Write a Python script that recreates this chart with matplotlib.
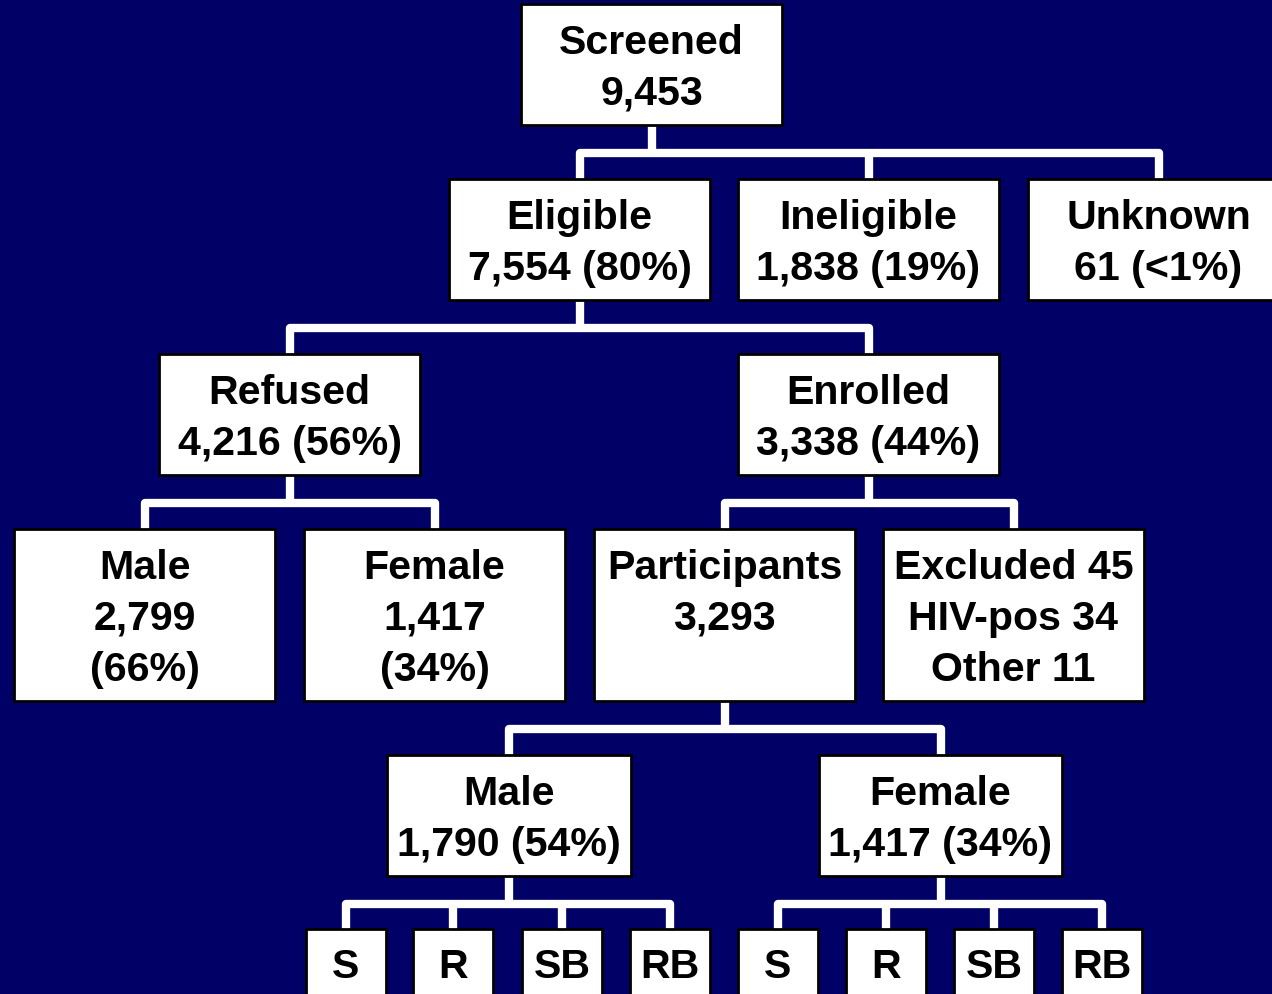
import matplotlib
matplotlib.use("Agg")
import matplotlib.pyplot as plt
from matplotlib.patches import Rectangle

# ---- data (text of each node) ----
node_names = ["screened", "eligible", "ineligible", "unknown", "refused", "enrolled",
              "ref_male", "ref_female", "participants", "excluded",
              "p_male", "p_female",
              "m_s", "m_r", "m_sb", "m_rb", "f_s", "f_r", "f_sb", "f_rb"]
node_labels = ["Screened\n9,453", "Eligible\n7,554 (80%)", "Ineligible\n1,838 (19%)",
               "Unknown\n61 (<1%)", "Refused\n4,216 (56%)", "Enrolled\n3,338 (44%)",
               "Male\n2,799\n(66%)", "Female\n1,417\n(34%)", "Participants\n3,293\n ",
               "Excluded 45\nHIV-pos 34\nOther 11",
               "Male\n1,790 (54%)", "Female\n1,417 (34%)",
               "S", "R", "SB", "RB", "S", "R", "SB", "RB"]
edges = {
    "screened": ["eligible", "ineligible", "unknown"],
    "eligible": ["refused", "enrolled"],
    "refused": ["ref_male", "ref_female"],
    "enrolled": ["participants", "excluded"],
    "participants": ["p_male", "p_female"],
    "p_male": ["m_s", "m_r", "m_sb", "m_rb"],
    "p_female": ["f_s", "f_r", "f_sb", "f_rb"],
}

# ---- layout (pixel geometry: x0, y0, x1, y1) ----
box_geom = {
    "screened": (521, 5, 782, 126),
    "eligible": (449, 180, 710, 301),
    "ineligible": (738, 180, 999, 301),
    "unknown": (1028, 180, 1289, 301),
    "refused": (159, 355, 420, 476),
    "enrolled": (738, 355, 999, 476),
    "ref_male": (14, 530, 275, 702),
    "ref_female": (304, 530, 565, 702),
    "participants": (594, 530, 855, 702),
    "excluded": (883, 530, 1144, 702),
    "p_male": (387, 756, 631, 877),
    "p_female": (819, 756, 1062, 877),
    "m_s": (306, 930, 386, 1010),
    "m_r": (413, 930, 493, 1010),
    "m_sb": (522, 930, 602, 1010),
    "m_rb": (630, 930, 710, 1010),
    "f_s": (738, 930, 818, 1010),
    "f_r": (846, 930, 926, 1010),
    "f_sb": (954, 930, 1034, 1010),
    "f_rb": (1062, 930, 1142, 1010),
}

BG = "#000066"
W, H = 1272, 995
fig = plt.figure(figsize=(W / 100, H / 100), dpi=100, facecolor=BG)
ax = fig.add_axes([0, 0, 1, 1])
ax.set_facecolor(BG)
ax.set_xlim(0, W)
ax.set_ylim(H, 0)
ax.axis("off")

# connectors
for parent, kids in edges.items():
    px0, py0, px1, py1 = box_geom[parent]
    pcx = (px0 + px1) / 2
    ktop = min(box_geom[k][1] for k in kids)
    ymid = (py1 + ktop) / 2 + 1
    ax.plot([pcx, pcx], [py1, ymid], color="white", lw=6, solid_capstyle="butt", zorder=1)
    xs = [(box_geom[k][0] + box_geom[k][2]) / 2 for k in kids]
    xl, xr = min(xs), max(xs)
    ax.plot([xl, xl, xr, xr], [ktop, ymid, ymid, ktop], color="white", lw=6,
            solid_joinstyle="round", solid_capstyle="butt", zorder=1)
    for x in xs[1:-1]:
        ax.plot([x, x], [ymid, ktop], color="white", lw=6, solid_capstyle="butt", zorder=1)

# boxes
for name, label in zip(node_names, node_labels):
    x0, y0, x1, y1 = box_geom[name]
    ax.add_patch(Rectangle((x0, y0), x1 - x0, y1 - y0, facecolor="white",
                           edgecolor="black", lw=2, zorder=2))
    cx = (x0 + x1) / 2
    if name.startswith(("m_", "f_")):
        cy = 967
    else:
        cy = (y0 + y1) / 2 + 3
    ax.text(cx, cy, label, ha="center", va="center", fontsize=29.6, fontweight="bold",
            family=["Liberation Sans", "DejaVu Sans"], linespacing=1.42, zorder=3,
            color="black")

fig.savefig("out.png", dpi=100, facecolor=BG)
